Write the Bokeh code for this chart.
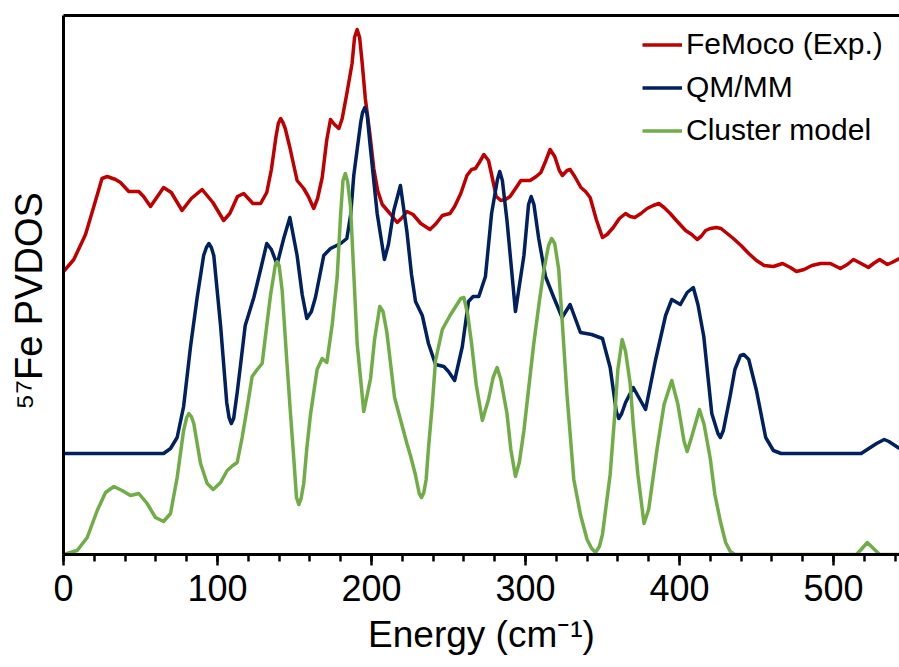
from bokeh.plotting import figure
from bokeh.models import Range1d, LinearAxis, Legend, LegendItem, FixedTicker, SingleIntervalTicker
from bokeh.embed import file_html
from bokeh.resources import INLINE

# ---------------- data (arbitrary PVDOS units) ----------------
exp_energy = [0, 6.7, 14.3, 19.7, 25, 28.4, 33.8, 37, 42.4, 48.9, 52, 56.5, 61, 65, 70, 77, 83, 90, 97, 104,
              108, 113, 117, 123, 128, 132, 135, 138, 139.5, 141, 142.5, 144, 147, 151.7, 156, 159, 162.5,
              165, 168, 171, 173.4, 176, 178.8, 181, 184, 187.4, 189, 190.7, 192.3, 194, 196, 199, 201.5,
              204, 207, 212, 216.7, 220, 223, 227, 232, 238, 242, 246, 251, 254, 258, 262, 265, 267.5, 270,
              273, 276, 278, 281, 284, 287, 290, 294, 297, 300, 303, 307, 310, 313, 316, 319, 322, 324,
              327, 329, 332, 336, 339, 342, 346, 350, 353, 357, 361, 365, 368, 371, 375, 379, 383, 386.6,
              390, 394, 398, 401, 404, 408, 411.5, 414, 417, 420, 424, 427, 431, 435, 440, 445, 450, 455,
              461, 467, 472, 476, 481, 486, 491.6, 498, 504.5, 509, 513, 518, 522.7, 526, 530, 535, 538,
              542.9]
exp_pvdos = [283, 295, 320, 348, 376, 378, 375, 372, 363, 363, 358, 348, 358, 367, 362, 344, 356, 365, 352, 334,
             341, 358, 361, 351, 351, 362, 385, 418, 431, 436, 432, 426, 407, 374, 366, 358, 346,
             356, 377, 415, 435, 430, 426, 436, 461, 491, 517, 525, 517, 491, 456, 420, 386,
             364, 350, 341, 332, 337, 343, 340, 331, 325, 331, 339, 341, 348, 361, 379, 385, 386, 392,
             400, 394, 380, 358, 354, 355, 358, 367, 374, 374, 374, 378, 382, 393, 405, 398, 384, 379,
             384, 385, 378, 367, 363, 357, 335, 317, 320, 327, 336, 341, 338, 337, 341, 346, 349, 351,
             347, 341, 334, 329, 324, 320, 315, 318, 324, 326, 327, 326, 321, 316, 309, 301, 294, 289,
             288, 291, 287, 283, 285, 289, 291, 291, 286, 290, 295, 291, 287, 291, 295, 290, 292,
             296]

qmmm_energy = [0, 65, 69.5, 73.8, 78, 82.5, 86.8, 91, 92.8, 94.4, 96, 97.6, 102, 106, 107.5, 109, 110.5, 112.8,
               115, 118, 123.6, 128, 132, 135, 138.7, 143, 147, 151.7, 155, 158, 161, 163.6, 169, 173.4,
               180, 184, 186.5, 188.5, 193, 194.2, 195.7, 197.2, 199, 203.7, 208.4, 211, 214.5, 218.8, 223,
               226, 228.6, 233, 237, 241.6, 247, 250, 254, 259, 263, 266, 269.7, 274, 278, 281.8, 283.3,
               285, 288, 293.5, 299, 302, 303.7, 305.5, 308.6, 313, 318.4, 323.8, 329, 335.7, 343, 350,
               355, 359, 360.6, 362.5, 365, 370, 378, 384.4, 391, 395, 400.6, 405, 409, 412, 415.8, 421,
               425, 426.6, 428.5, 433, 436, 439.6, 441.8, 445, 450, 456, 461, 466, 518, 522, 528, 533,
               536, 542.9]
qmmm_pvdos = [101, 101, 106, 117, 148, 208, 257, 299, 307, 311, 307, 299, 229, 152, 137, 131, 136, 162,
              190, 229, 257, 285, 311, 305, 290, 316, 337, 299, 260, 236, 243, 257, 299, 306,
              311, 316, 340, 379, 432, 442, 447, 440, 411, 341, 295, 310, 344, 369, 323,
              280, 253, 239, 211, 190, 188, 183, 174, 208, 253, 258, 258, 278, 341, 375, 383,
              374, 334, 243, 299, 350, 358, 350, 316, 278, 257, 237, 250, 222, 220, 216,
              187, 143, 136, 141, 152, 167, 145, 194, 239, 255, 250, 262, 267, 250, 218, 141,
              121, 117, 124, 159, 185, 199, 200, 195, 164, 117, 104, 101, 101, 105, 111, 115,
              113, 106]

cluster_energy = [0, 8.9, 15.4, 21.9, 27.3, 32.7, 38, 43.5, 48.9, 54.3, 59.7, 65, 69.5, 73.8, 78, 80, 81.4, 83,
                  84.6, 89, 93.3, 97.2, 102, 106.3, 110, 112.8, 116, 119.3, 122.5, 125.8, 129, 132, 134.5,
                  136.6, 137.5, 138.7, 140, 142, 145, 147.4, 149.6, 151.3, 152.8, 154.3, 156, 158, 160.4,
                  164.7, 168, 171, 174.5, 177.7, 180, 181.5, 183, 184.5, 186.4, 190.7, 195, 199.4, 202,
                  205.4, 207.5, 210, 215, 219, 223, 225.3, 228.5, 231, 232.5, 234, 235.5, 237, 239.5, 241.6,
                  246, 251, 255.5, 258, 260, 262.5, 265, 268, 272, 276, 279, 281.6, 284, 288, 290.5, 293.5,
                  296, 299, 302, 305.4, 309, 312, 315, 317, 319, 321.6, 324, 327, 331.4, 335.7, 340, 343,
                  345.5, 348, 350, 355, 358, 360, 362.8, 365, 368, 370, 373, 377, 380, 385.5, 390, 395,
                  399, 403, 405, 408, 413, 416, 420, 423, 426.6, 430, 433, 436, 515, 518, 522, 526, 530,
                  542.9]
cluster_pvdos = [0, 4, 17, 44, 62, 68, 64, 59, 61, 51, 37, 33, 41, 77, 124, 137, 141, 138,
                 131, 91, 71, 65, 72, 84, 89, 92, 117, 147, 178, 185, 191, 229, 260,
                 280, 289, 293, 289, 264, 194, 141, 95, 57, 50, 56, 71, 106, 140,
                 185, 196, 192, 230, 277, 341, 374, 381, 373, 348, 211, 143, 176, 215,
                 248, 243, 222, 157, 134, 111, 99, 80, 61, 57, 62, 75, 106, 150, 194,
                 225, 239, 250, 256, 257, 240, 211, 170, 134, 155, 177, 187, 175, 141, 105, 78,
                 92, 124, 165, 211, 253, 285, 309, 316, 311, 285, 230, 159, 75, 40, 15, 6,
                 2, 8, 20, 80, 140, 185, 215, 203, 171, 130, 80, 31, 45, 106, 150, 174,
                 150, 113, 103, 118, 145, 130, 96, 60, 33, 12, 3, 0, 0, 5, 12, 6, 0,
                 0]

series_names = ["FeMoco (Exp.)", "QM/MM", "Cluster model"]
x_title = "Energy (cm\u207b\u00b9)"
y_title = "\u2075\u2077Fe PVDOS"

# ---------------- figure ----------------
FONT = "Liberation Sans"
p = figure(width=899, height=667, output_backend="svg", toolbar_location=None,
           x_range=Range1d(0, 542.9), y_range=Range1d(0, 539),
           min_border_left=63, min_border_right=0, min_border_top=15, min_border_bottom=113)
p.outline_line_color = None
p.xgrid.visible = False
p.ygrid.visible = False
p.background_fill_color = "white"
p.border_fill_color = "white"

xa = p.xaxis[0]
xa.ticker = SingleIntervalTicker(interval=100, num_minor_ticks=5)
xa.axis_line_width = 3
xa.axis_line_color = "black"
xa.major_tick_line_width = 2.5
xa.major_tick_line_color = "black"
xa.major_tick_out = 11
xa.major_tick_in = 0
xa.minor_tick_line_width = 2.5
xa.minor_tick_line_color = "black"
xa.minor_tick_out = 7
xa.minor_tick_in = 0
xa.major_label_text_font = FONT
xa.major_label_text_font_size = "36px"
xa.major_label_text_color = "black"
xa.major_label_standoff = 9
xa.axis_label = x_title
xa.axis_label_text_font = FONT
xa.axis_label_text_font_size = "37px"
xa.axis_label_text_font_style = "normal"
xa.axis_label_text_color = "black"
xa.axis_label_standoff = 10

ya = p.yaxis[0]
ya.ticker = FixedTicker(ticks=[])
ya.axis_line_width = 3
ya.axis_line_color = "black"
ya.major_tick_line_color = None
ya.minor_tick_line_color = None
ya.major_label_standoff = 0
ya.axis_label = y_title + "\u00a0\u00a0\u00a0"
ya.axis_label_text_font = FONT
ya.axis_label_text_font_size = "38px"
ya.axis_label_text_font_style = "normal"
ya.axis_label_text_color = "black"
ya.axis_label_standoff = 14

top = LinearAxis(ticker=FixedTicker(ticks=[]), axis_line_width=3, axis_line_color="black",
                 major_tick_line_color=None, minor_tick_line_color=None, major_label_standoff=0)
p.add_layout(top, "above")

r_exp = p.line(exp_energy, exp_pvdos, line_color="#C00000", line_width=3.5, line_join="round")
r_qm = p.line(qmmm_energy, qmmm_pvdos, line_color="#002060", line_width=3.5, line_join="round")
r_cl = p.line(cluster_energy, cluster_pvdos, line_color="#70AD47", line_width=3.5, line_join="round")

legend = Legend(items=[LegendItem(label=series_names[0], renderers=[r_exp]),
                       LegendItem(label=series_names[1], renderers=[r_qm]),
                       LegendItem(label=series_names[2], renderers=[r_cl])],
                location=(579, 407), orientation="vertical",
                border_line_color=None, background_fill_alpha=0,
                label_text_font=FONT, label_text_font_size="30px", label_text_color="black",
                glyph_width=40, glyph_height=31, label_height=31, spacing=9,
                padding=0, margin=0, label_standoff=4)
p.add_layout(legend)

open("out.html", "w").write(file_html(p, INLINE))
